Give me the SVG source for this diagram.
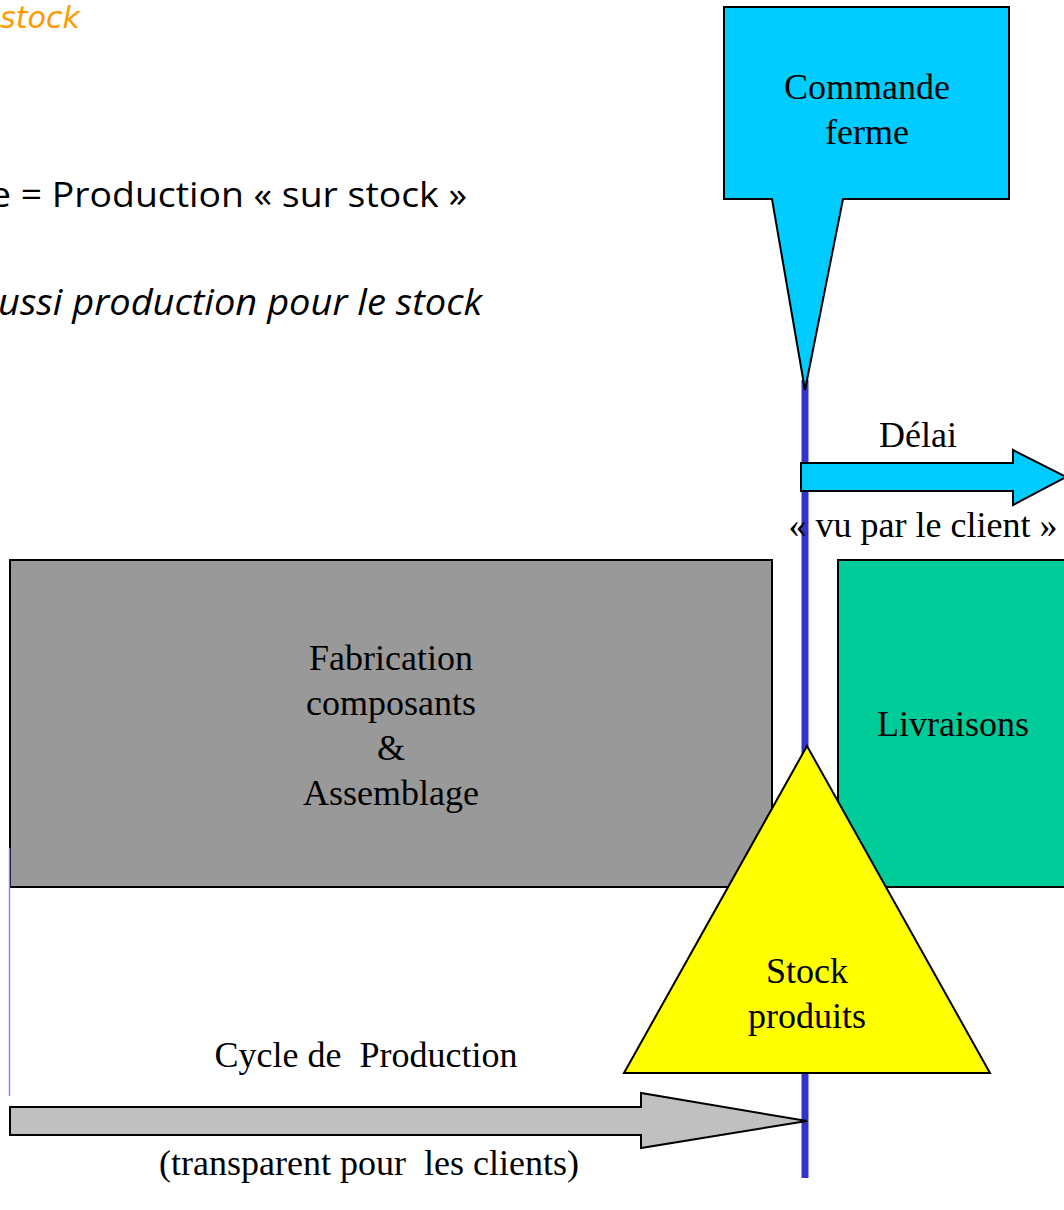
<svg xmlns="http://www.w3.org/2000/svg" width="1064" height="1210" viewBox="0 0 1064 1210">
<style>
.t{font-family:"Liberation Serif","Times New Roman",serif;font-size:36px;fill:#000;text-anchor:middle;white-space:pre}
.s{stroke:#000;stroke-width:2;stroke-linejoin:miter}
.h{font-family:"Open Sans","Liberation Sans",sans-serif;fill:#000}
</style>
<rect width="1064" height="1210" fill="#fff"/>
<g id="header">
<text x="0" y="28" font-family="'DejaVu Sans',sans-serif" font-style="italic" font-size="30" fill="#ff9900" textLength="80" lengthAdjust="spacingAndGlyphs">stock</text>
<text class="h" x="-10" y="207" font-size="35" textLength="477" lengthAdjust="spacingAndGlyphs">e = Production « sur stock »</text>
<text class="h" x="-2" y="315" font-size="36" font-style="italic" textLength="484" lengthAdjust="spacingAndGlyphs">ussi production pour le stock</text>
</g>
<g id="fabrication">
<rect class="s" x="10" y="560" width="762" height="327" fill="#999999"/>
<text class="t" x="391" y="670">Fabrication</text>
<text class="t" x="391" y="715">composants</text>
<text class="t" x="391" y="760">&amp;</text>
<text class="t" x="391" y="805">Assemblage</text>
</g>
<g id="livraisons">
<rect class="s" x="838" y="560" width="240" height="327" fill="#00cc99"/>
<text class="t" x="953" y="736">Livraisons</text>
</g>
<g id="connectors">
<line x1="805" y1="380" x2="805" y2="1178" stroke="#3333cc" stroke-width="7"/>
<line x1="9.5" y1="848" x2="9.5" y2="1096" stroke="#8888ee" stroke-width="1.5"/>
</g>
<g id="commande">
<path class="s" d="M724 7 H1009 V199 H843 L805 390 L772 199 H724 Z" fill="#00ccff"/>
<text class="t" x="867" y="99">Commande</text>
<text class="t" x="867" y="144">ferme</text>
</g>
<g id="delai">
<path class="s" d="M801 463 H1013 V450 L1066 477 L1013 505 V491 H801 Z" fill="#00ccff"/>
<text class="t" x="918" y="447">Délai</text>
<text class="t" x="923" y="537">« vu par le client »</text>
</g>
<g id="stock">
<polygon class="s" points="807,746 624,1073 990,1073" fill="#ffff00"/>
<text class="t" x="807" y="983">Stock</text>
<text class="t" x="807" y="1028">produits</text>
</g>
<g id="cycle">
<path class="s" d="M10 1107 H641 V1093 L807 1121 L641 1148 V1135 H10 Z" fill="#c0c0c0"/>
<text class="t" x="366" y="1067" xml:space="preserve">Cycle de  Production</text>
<text class="t" x="369" y="1175" xml:space="preserve">(transparent pour  les clients)</text>
</g>
</svg>
